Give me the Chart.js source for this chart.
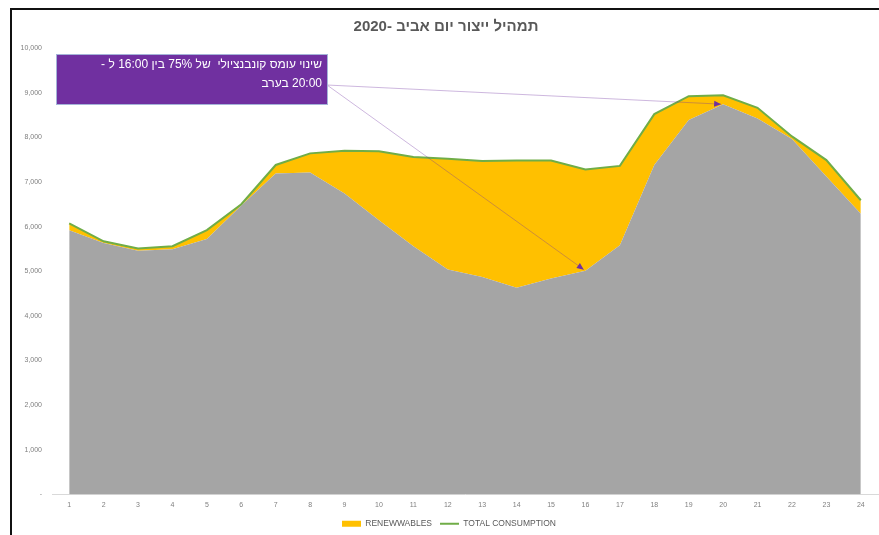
<!DOCTYPE html>
<html>
<head>
<meta charset="utf-8">
<script src="https://cdn.jsdelivr.net/npm/chart.js@4/dist/chart.umd.min.js"></script>
<style>
  html, body { margin: 0; padding: 0; background: #fff; }
  #wrap { position: relative; width: 879px; height: 535px; }
  #edgeLeft { position: absolute; left: 10px; top: 8px; width: 2px; height: 527px; background: #111; }
  #edgeTop { position: absolute; left: 10px; top: 8px; width: 869px; height: 2px; background: #111; }
</style>
</head>
<body>
<div id="wrap">
  <canvas id="mix" width="879" height="535"></canvas>
  <div id="edgeLeft"></div>
  <div id="edgeTop"></div>
</div>
<script>
const FONT = "'Liberation Sans', Arial, sans-serif";

const chartTitle = "תמהיל ייצור יום אביב -2020";
const noteLines = ["שינוי עומס קונבנציולי  של 75% בין 16:00 ל -", "20:00 בערב"];

const hours = ["1", "2", "3", "4", "5", "6", "7", "8", "9", "10", "11", "12",
  "13", "14", "15", "16", "17", "18", "19", "20", "21", "22", "23", "24"];

// grey area (conventional), not in the legend
const conventional = [5920, 5630, 5460, 5490, 5720, 6470, 7190, 7210, 6740, 6140, 5560, 5040,
  4870, 4630, 4840, 5010, 5580, 7380, 8390, 8740, 8420, 7960, 7120, 6290];

// yellow area stacked on the grey one
const renewables = [150, 40, 50, 70, 200, 30, 190, 430, 960, 1550, 2000, 2480,
  2600, 2850, 2640, 2270, 1780, 1140, 530, 200, 240, 60, 370, 300];

const totalConsumption = [6070, 5670, 5510, 5560, 5920, 6500, 7380, 7640, 7700, 7690, 7560, 7520,
  7470, 7480, 7480, 7280, 7360, 8520, 8920, 8940, 8660, 8020, 7490, 6590];

// hours the two arrows of the note point at
const arrowHours = ["20", "16"];

const yTicks = [0, 1000, 2000, 3000, 4000, 5000, 6000, 7000, 8000, 9000, 10000];

// legend sits a bit right of the canvas centre in the original
const nudgeLegend = {
  id: "nudgeLegend",
  afterLayout(chart) {
    chart.legend.left += 20;
  }
};

// title, note box and arrows
const overlay = {
  id: "overlay",
  afterDraw(chart) {
    const ctx = chart.ctx;
    const xs = chart.scales.x;
    const ys = chart.scales.y;
    ctx.save();

    ctx.direction = "rtl";
    ctx.font = "bold 15px " + FONT;
    ctx.fillStyle = "#595959";
    ctx.textAlign = "center";
    ctx.textBaseline = "middle";
    ctx.fillText(chartTitle, 446, 27);

    // arrows from the note box
    const sx = 327, sy = 85;
    arrowHours.forEach((h) => {
      const i = hours.indexOf(h);
      let tx = xs.getPixelForValue(i);
      let ty = ys.getPixelForValue(conventional[i]);
      const ang = Math.atan2(ty - sy, tx - sx);
      tx -= Math.cos(ang) * 2;
      ty -= Math.sin(ang) * 2;
      ctx.strokeStyle = "rgba(112, 48, 160, 0.35)";
      ctx.lineWidth = 1;
      ctx.beginPath();
      ctx.moveTo(sx, sy);
      ctx.lineTo(tx, ty);
      ctx.stroke();
      ctx.fillStyle = "#7030A0";
      ctx.beginPath();
      ctx.moveTo(tx, ty);
      ctx.lineTo(tx - 7 * Math.cos(ang) + 3 * Math.sin(ang), ty - 7 * Math.sin(ang) - 3 * Math.cos(ang));
      ctx.lineTo(tx - 7 * Math.cos(ang) - 3 * Math.sin(ang), ty - 7 * Math.sin(ang) + 3 * Math.cos(ang));
      ctx.closePath();
      ctx.fill();
    });

    // note box
    ctx.fillStyle = "#7030A0";
    ctx.fillRect(57, 55, 270, 49);
    ctx.strokeStyle = "#a4b4d8";
    ctx.lineWidth = 1;
    ctx.strokeRect(56.5, 54.5, 271, 50);
    ctx.fillStyle = "#ffffff";
    ctx.font = "12px " + FONT;
    ctx.textAlign = "right";
    ctx.fillText(noteLines[0], 322, 65);
    ctx.fillText(noteLines[1], 322, 84);

    ctx.restore();
  }
};

new Chart(document.getElementById("mix"), {
  type: "line",
  data: {
    labels: hours,
    datasets: [
      {
        label: "CONVENTIONAL",
        data: conventional,
        stack: "gen",
        fill: "origin",
        backgroundColor: "#A5A5A5",
        borderColor: "#A5A5A5",
        borderWidth: 0,
        pointRadius: 0,
        tension: 0,
        order: 1,
      },
      {
        label: "RENEWWABLES",
        data: renewables,
        stack: "gen",
        fill: "-1",
        backgroundColor: "#FFC000",
        borderColor: "#FFC000",
        borderWidth: 0,
        pointRadius: 0,
        pointStyle: "rect",
        tension: 0,
        order: 1,
      },
      {
        label: "TOTAL CONSUMPTION",
        data: totalConsumption,
        stack: "total",
        fill: false,
        borderColor: "#70AD47",
        backgroundColor: "#70AD47",
        borderWidth: 2,
        pointRadius: 0,
        pointStyle: "line",
        tension: 0,
        order: 0,
      },
    ],
  },
  options: {
    responsive: false,
    animation: false,
    layout: { padding: { top: 48, left: 0, right: 1, bottom: -3 } },
    plugins: {
      title: { display: false },
      tooltip: { enabled: false },
      legend: {
        position: "bottom",
        labels: {
          filter: (item) => item.datasetIndex !== 0,
          sort: (a, b) => a.datasetIndex - b.datasetIndex,
          usePointStyle: true,
          pointStyleWidth: 19,
          boxHeight: 6,
          padding: 8,
          color: "#595959",
          font: { size: 8.5, family: FONT },
        },
      },
    },
    scales: {
      x: {
        offset: true,
        grid: { display: false, drawTicks: false },
        border: { display: true, color: "#d9d9d9", width: 1 },
        ticks: {
          color: "#7f7f7f",
          font: { size: 7, family: FONT },
          padding: 6,
          maxRotation: 0,
          autoSkip: false,
        },
        afterFit: (scale) => { scale.height = 17; },
      },
      y: {
        stacked: true,
        min: 0,
        max: 10000,
        grid: { display: false, drawTicks: false },
        border: { display: false },
        afterBuildTicks: (scale) => { scale.ticks = yTicks.map((v) => ({ value: v })); },
        ticks: {
          color: "#7f7f7f",
          font: { size: 7, family: FONT },
          padding: 10,
          callback: (v) => (v === 0 ? "-" : v.toLocaleString("en-US")),
        },
        afterFit: (scale) => { scale.width = 52; },
      },
    },
  },
  plugins: [nudgeLegend, overlay],
});
</script>
</body>
</html>
